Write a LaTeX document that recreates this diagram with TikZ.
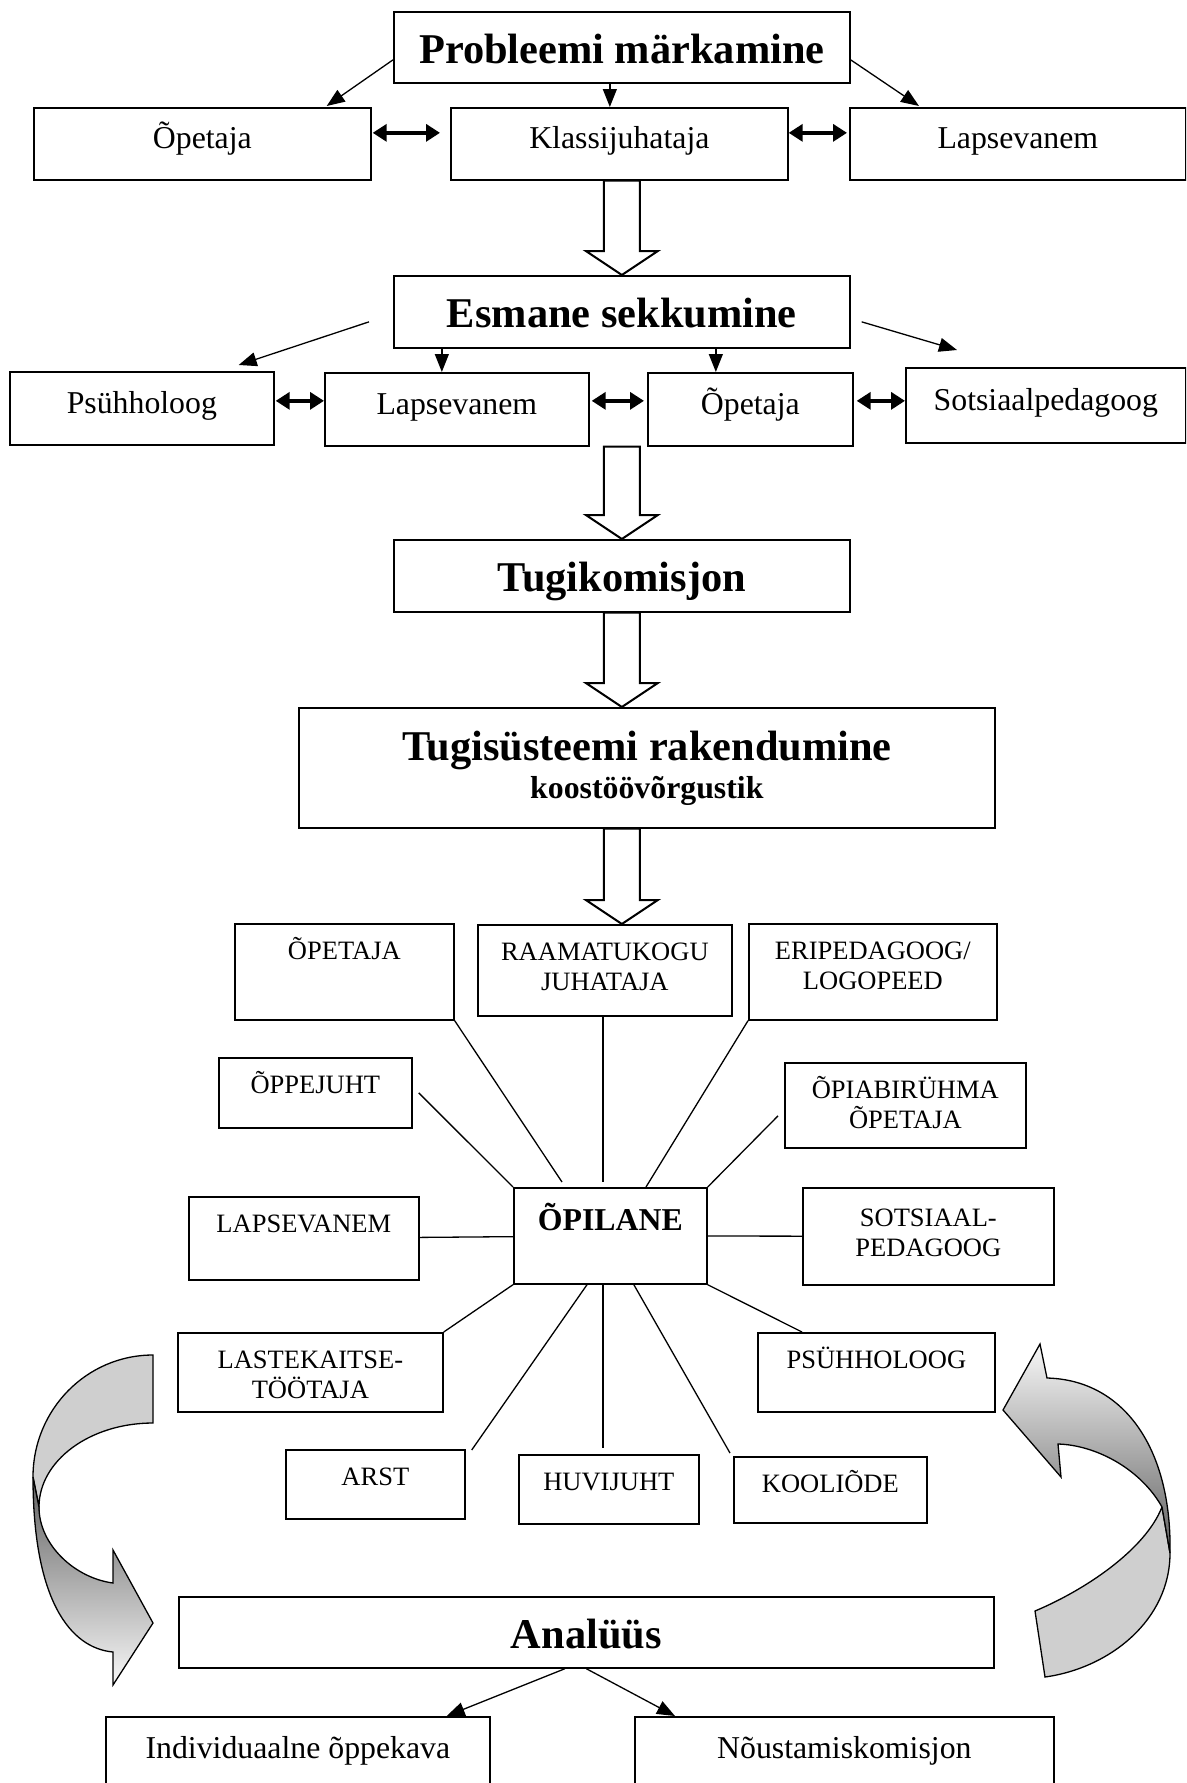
\documentclass[tikz,border=0pt]{standalone}
\usepackage{fontspec}
\setmainfont{Liberation Serif}
\usetikzlibrary{arrows.meta,calc}

\newcommand{\sizeA}{\fontsize{31.8pt}{36.6pt}\selectfont}
\newcommand{\sizeB}{\fontsize{42.4pt}{48pt}\selectfont\bfseries}
\newcommand{\sizeC}{\fontsize{26.5pt}{30pt}\selectfont}

% hollow block arrow: #1 top of the shaft, #2 the tip
\newcommand{\blockarrow}[2]{%
  \draw[hollow] ($#1+(-18,0)$) -- ($#2+(-18,-24)$) -- ($#2+(-36,-24)$) -- #2
    -- ($#2+(36,-24)$) -- ($#2+(18,-24)$) -- ($#1+(18,0)$) -- cycle;}

\begin{document}
\begin{tikzpicture}[x=1pt,y=-1pt,
  box/.style={draw, line width=1.7pt, anchor=north west, inner sep=0pt, align=center, font=\sizeA,
    text height=20pt, text depth=10pt},
  headbox/.style={box, font=\sizeB, text height=32pt, text depth=0pt},
  capbox/.style={draw, line width=1.7pt, anchor=north west, inner xsep=4pt, inner ysep=0pt,
    align=center, font=\sizeC, text height=36pt},
  twoline/.style={capbox, text height=66pt},
  lowbox/.style={capbox, font=\sizeA, text height=42pt, text depth=37pt},
  arr/.style={line width=1.3pt, -{Triangle[length=18pt,width=14pt]}},
  dbl/.style={line width=3.4pt, {Triangle[length=14pt,width=17pt]}-{Triangle[length=14pt,width=17pt]}},
  spoke/.style={line width=1.3pt},
  hollow/.style={draw, fill=white, line width=2pt},
  back/.style={draw, line width=1.3pt, fill=black!19},
  front/.style={draw, line width=1.3pt}]
    \useasboundingbox (0,0) rectangle (1186,1783);
    \clip (0,0) rectangle (1186,1783);

    \node[headbox, minimum width=456pt, minimum height=71pt] (Probleem) at (393,11) {Probleemi märkamine};
    \node[box, minimum width=337pt, minimum height=72pt] (Opetaja1) at (33,107) {Õpetaja};
    \node[box, minimum width=337pt, minimum height=72pt] (Klassijuh) at (450,107) {Klassijuhataja};
    \node[box, minimum width=336pt, minimum height=72pt] (Lapsevanem1) at (849,107) {Lapsevanem};

    \node[headbox, minimum width=456pt, minimum height=72pt] (Esmane) at (393,275) {Esmane sekkumine};
    \node[box, minimum width=264pt, minimum height=73pt] (Psyh1) at (9,371) {Psühholoog};
    \node[box, minimum width=264pt, minimum height=73pt] (Lapsevanem2) at (324,372) {Lapsevanem};
    \node[box, minimum width=205pt, minimum height=73pt] (Opetaja2) at (647,372) {Õpetaja};
    \node[box, minimum width=280pt, minimum height=75pt] (Sotsped1) at (905,367) {Sotsiaalpedagoog};

    \node[headbox, minimum width=456pt, minimum height=72pt] (Tugikom) at (393,539) {Tugikomisjon};
    \node[headbox, text height={}, text depth={}, minimum width=696pt, minimum height=120pt] (Tugisys) at (298,707)
      {Tugisüsteemi rakendumine\\[-10pt]{\sizeA\bfseries koostöövõrgustik}};

    \node[capbox, minimum width=219pt, text depth=60pt] (Opetaja3) at (234,923) {ÕPETAJA};
    \node[twoline, minimum width=254pt, text depth=25pt] (Raamat) at (477,924) {RAAMATUKOGU\\JUHATAJA};
    \node[twoline, minimum width=248pt, text depth=30pt] (Eriped) at (748,923) {ERIPEDAGOOG/\\LOGOPEED};
    \node[capbox, minimum width=193pt, text depth=34pt] (Oppejuht) at (218,1057) {ÕPPEJUHT};
    \node[twoline, minimum width=241pt, text depth=19pt] (Opiabi) at (784,1062) {ÕPIABIRÜHMA\\ÕPETAJA};
    \node[capbox, minimum width=230pt, text depth=47pt] (Lapsevanem3) at (188,1196) {LAPSEVANEM};
    \node[capbox, minimum width=193pt, text height=42.5pt, text depth=53.5pt, font=\sizeA\bfseries] (Opilane) at (513,1187) {ÕPILANE};
    \node[twoline, minimum width=251pt, text height=69pt, text depth=28pt] (Sotsped2) at (802,1187) {SOTSIAAL-\\PEDAGOOG};
    \node[twoline, minimum width=265pt, text depth=13pt] (Lastekaitse) at (177,1332) {LASTEKAITSE-\\TÖÖTAJA};
    \node[capbox, minimum width=237pt, text depth=43pt] (Psyh2) at (757,1332) {PSÜHHOLOOG};
    \node[capbox, minimum width=179pt, text depth=33pt] (Arst) at (285,1449) {ARST};
    \node[capbox, minimum width=180pt, text depth=33pt] (Huvijuht) at (518,1454) {HUVIJUHT};
    \node[capbox, minimum width=193pt, text depth=30pt] (Koolide) at (733,1456) {KOOLIÕDE};

    \node[headbox, minimum width=815pt, minimum height=71pt] (Analyys) at (178,1596) {Analüüs};
    \node[lowbox, minimum width=384pt] (IOK) at (105,1716) {Individuaalne õppekava};
    \node[lowbox, minimum width=419pt] (Noustam) at (634,1716) {Nõustamiskomisjon};

    \draw[arr] ($(Probleem.west)+(0,12.5)$) -- ($(Opetaja1.north east)+(-45,-1)$);
    \draw[arr] ($(Probleem.south)+(-12,0)$) -- ($(Klassijuh.north)+(-9.5,0)$);
    \draw[arr] ($(Probleem.east)+(0,12.5)$) -- ($(Lapsevanem1.north west)+(70,-1)$);

    \draw[dbl] ($(Opetaja1.east)+(1,-11)$) -- ($(Klassijuh.west)+(-10,-11)$);
    \draw[dbl] ($(Klassijuh.east)+(0,-11)$) -- ($(Lapsevanem1.west)+(-2,-11)$);

    \blockarrow{(Klassijuh.south -| Esmane.north)}{(Esmane.north)}

    \draw[arr] ($(Esmane.west)+(-24,10)$) -- ($(Psyh1.north east)+(-36,-6)$);
    \draw[arr] ($(Esmane.south -| Lapsevanem2.north)+(-15,0)$) -- ($(Lapsevanem2.north)+(-15,0)$);
    \draw[arr] ($(Esmane.south -| Opetaja2.north)+(-34.5,0)$) -- ($(Opetaja2.north)+(-34.5,0)$);
    \draw[arr] ($(Esmane.east)+(11,10)$) -- ($(Sotsped1.north west)+(52,-17)$);

    \draw[dbl] ($(Psyh1.east)+(1,-7.5)$) -- ($(Lapsevanem2.west)+(0,-8.5)$);
    \draw[dbl] ($(Lapsevanem2.east)+(2,-8.5)$) -- ($(Opetaja2.west)+(-3,-8.5)$);
    \draw[dbl] ($(Opetaja2.east)+(3,-8.5)$) -- ($(Sotsped1.west)+(0,-4.5)$);

    \blockarrow{(Lapsevanem2.south -| Tugikom.north)}{(Tugikom.north)}
    \blockarrow{(Tugikom.south)}{(Tugikom.south |- Tugisys.north)}
    \blockarrow{(Tugikom.south |- Tugisys.south)}{(Tugikom.south |- Raamat.north)}

    \draw[spoke] (Opetaja3.south east) -- ($(Opilane.north west)+(49,-5)$);
    \draw[spoke] ($(Raamat.south)+(-2,0)$) -- ($(Raamat.south |- Opilane.north)+(-2,-5)$);
    \draw[spoke] (Eriped.south west) -- ($(Opilane.north west)+(133,0)$);
    \draw[spoke] ($(Oppejuht.east)+(6,0)$) -- (Opilane.north west);
    \draw[spoke] ($(Opiabi.west)+(-6,10.5)$) -- (Opilane.north east);
    \draw[spoke] (Lapsevanem3) -- (Opilane);
    \draw[spoke] (Opilane) -- (Sotsped2);
    \draw[spoke] (Opilane.south west) -- (Lastekaitse.north east);
    \draw[spoke] (Opilane.south east) -- ($(Psyh2.north west)+(45,0)$);
    \draw[spoke] ($(Opilane.south west)+(74,0)$) -- ($(Arst.north east)+(6,1)$);
    \draw[spoke] ($(Opilane.south)+(-7.5,0)$) -- ($(Huvijuht.north)+(-6,-6)$);
    \draw[spoke] ($(Opilane.south)+(23.5,0)$) -- ($(Koolide.north west)+(-3,-3)$);

    \draw[arr] ($(Analyys.south)+(-21.5,0)$) -- ($(IOK.north east)+(-44,0)$);
    \draw[arr] (Analyys.south) -- ($(Noustam.north west)+(41,0)$);

    % curved arrows round the loop
    \draw[back] (153,1355) .. controls (86.7,1355) and (33,1409.6) .. (33,1477) -- (39,1507)
      .. controls (39,1460.6) and (90,1423) .. (153,1423) -- cycle;
    \draw[front, top color=black!62, bottom color=black!3] (33,1477) .. controls (33,1600) and (70,1648) .. (113,1652)
      -- (113,1685) -- (153,1623) -- (113,1550) -- (113,1583) .. controls (75,1578) and (39,1545) .. (39,1507) -- cycle;

    \draw[back] (1045,1677) .. controls (1110,1668) and (1170,1620) .. (1170,1553) -- (1162,1507)
      .. controls (1145,1550) and (1085,1590) .. (1035,1611) -- cycle;
    \draw[front, top color=black!3, bottom color=black!62] (1170,1553) .. controls (1172,1450) and (1125,1380) .. (1047,1378)
      -- (1040,1344) -- (1003,1410) -- (1061,1477) -- (1058,1444) .. controls (1095,1445) and (1140,1468) .. (1162,1507) -- cycle;

\end{tikzpicture}
\end{document}
